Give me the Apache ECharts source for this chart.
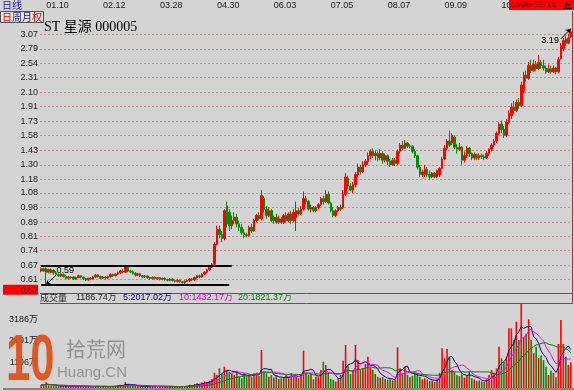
<!DOCTYPE html>
<html><head><meta charset="utf-8">
<script src="https://cdn.jsdelivr.net/npm/echarts@6/dist/echarts.min.js"></script>
<style>html,body{margin:0;padding:0;background:#d4d4d4;overflow:hidden}#c{width:574px;height:392px}</style>
</head><body><div id="c"></div>
<script>
const stockTitle = 'ST 星源 000005';
const priceTicks = [0.61,0.67,0.74,0.81,0.89,0.98,1.08,1.18,1.30,1.43,1.58,1.73,1.91,2.10,2.31,2.54,2.79,3.07];
const priceBottomLabel = 0.57;
const dateLabels = ['01.10','02.12','03.28','04.30','06.03','07.05','08.07','09.09','10.14'];
const dateIdx = [2,25,48,71,94,117,140,163,186];
const boxTop = 0.67, boxBottom = 0.59;
const lowVal = 0.59, lowIdx = 2;
const highVal = 3.19, highIdx = 214;
// [open, close, low, high]
const candles = [
[.645,.655,.64,.66],[.655,.645,.642,.66],[.64,.655,.59,.66],[.652,.64,.635,.655],[.64,.65,.635,.655],
[.648,.638,.63,.652],[.638,.63,.625,.645],[.63,.625,.62,.635],[.625,.632,.62,.638],[.63,.622,.618,.635],
[.622,.615,.61,.628],[.615,.62,.61,.625],[.62,.617,.613,.624],[.62,.612,.608,.624],[.612,.618,.608,.622],
[.618,.625,.615,.63],[.625,.62,.615,.628],[.62,.613,.608,.622],[.613,.608,.604,.616],[.608,.615,.605,.618],
[.615,.612,.607,.62],[.612,.62,.61,.625],[.62,.628,.617,.632],[.628,.622,.618,.632],[.622,.615,.612,.626],
[.615,.62,.612,.624],[.62,.616,.61,.623],[.616,.622,.612,.626],[.622,.63,.618,.635],[.63,.626,.62,.634],
[.626,.632,.622,.636],[.632,.638,.628,.642],[.638,.645,.632,.65],[.645,.64,.635,.652],[.64,.66,.638,.67],
[.66,.645,.64,.665],[.645,.642,.636,.65],[.642,.635,.63,.648],[.635,.628,.622,.64],[.628,.633,.624,.637],
[.633,.625,.62,.636],[.625,.62,.615,.628],[.62,.624,.616,.628],[.624,.618,.613,.627],[.618,.614,.61,.621],
[.614,.619,.61,.622],[.619,.613,.609,.622],[.613,.617,.609,.62],[.617,.611,.607,.62],[.611,.615,.607,.618],
[.615,.61,.605,.618],[.61,.607,.602,.613],[.607,.612,.603,.615],[.612,.606,.602,.615],[.606,.603,.598,.61],
[.603,.607,.598,.61],[.607,.601,.597,.61],[.601,.598,.594,.605],[.598,.603,.592,.606],[.603,.606,.6,.61],
[.606,.612,.6,.615],[.612,.608,.604,.616],[.608,.618,.605,.622],[.618,.625,.614,.628],[.625,.62,.615,.63],
[.62,.632,.618,.636],[.632,.64,.628,.645],[.64,.65,.635,.655],[.65,.662,.645,.668],[.662,.675,.658,.68],
[.675,.77,.67,.78],[.77,.85,.765,.87],[.85,.82,.8,.87],[.82,.80,.78,.84],[.8,.96,.79,.97],
[.99,.88,.86,1.02],[.95,.87,.84,.97],[.87,.9,.85,.93],[.9,.92,.88,.95],[.92,.88,.86,.94],
[.88,.86,.84,.9],[.86,.83,.82,.88],[.83,.82,.8,.85],[.82,.815,.805,.83],[.815,.86,.81,.87],
[.86,.84,.83,.88],[.84,.9,.835,.91],[.9,.93,.89,.94],[.93,.91,.9,.95],[.91,1.06,.9,1.1],
[1.04,.97,.95,1.06],[.97,.93,.91,.99],[.93,.96,.92,.98],[.96,.9,.89,.97],[.9,.92,.88,.93],
[.92,.89,.88,.94],[.89,.91,.88,.93],[.91,.89,.88,.92],[.89,.93,.88,.94],[.93,.9,.89,.95],
[.9,.94,.89,.95],[.94,.9,.88,.96],[.9,.95,.89,.97],[.92,.96,.84,1.02],[.96,.94,.93,.98],
[.94,.97,.93,.99],[.97,1.04,.96,1.09],[1.04,1.02,1.0,1.06],[1.02,.97,.96,1.03],[.97,.98,.95,1.0],
[.98,.96,.95,.99],[.96,.98,.95,.99],[.98,1.0,.97,1.01],[1.0,1.04,.99,1.05],[1.04,1.02,1.0,1.06],
[1.02,1.07,1.01,1.1],[1.07,1.01,1.0,1.09],[1.01,.96,.95,1.02],[.96,.93,.92,.98],[.93,.96,.92,.97],
[.96,.98,.95,.99],[.98,.97,.96,1.0],[.98,1.07,.97,1.1],[1.07,1.2,1.06,1.23],[1.19,1.13,1.11,1.21],
[1.13,1.1,1.09,1.15],[1.1,1.14,1.08,1.16],[1.14,1.22,1.12,1.24],[1.22,1.28,1.2,1.31],[1.28,1.24,1.22,1.3],
[1.24,1.3,1.23,1.33],[1.3,1.33,1.28,1.35],[1.33,1.38,1.3,1.41],[1.38,1.42,1.35,1.44],[1.42,1.38,1.36,1.45],
[1.38,1.4,1.34,1.43],[1.4,1.36,1.33,1.42],[1.36,1.4,1.34,1.44],[1.4,1.34,1.31,1.42],[1.34,1.38,1.32,1.4],
[1.38,1.33,1.3,1.39],[1.33,1.3,1.28,1.35],[1.3,1.34,1.29,1.36],[1.34,1.31,1.29,1.36],[1.31,1.42,1.3,1.44],
[1.42,1.48,1.4,1.5],[1.48,1.45,1.43,1.52],[1.45,1.5,1.44,1.53],[1.5,1.47,1.45,1.51],[1.47,1.47,1.45,1.49],
[1.47,1.42,1.4,1.48],[1.42,1.38,1.36,1.44],[1.38,1.28,1.26,1.39],[1.28,1.22,1.2,1.3],[1.22,1.24,1.2,1.26],
[1.22,1.26,1.2,1.3],[1.26,1.22,1.2,1.28],[1.22,1.2,1.18,1.25],[1.2,1.23,1.19,1.24],[1.23,1.2,1.19,1.24],
[1.2,1.25,1.19,1.26],[1.22,1.27,1.2,1.28],[1.27,1.35,1.26,1.37],[1.35,1.45,1.34,1.48],[1.45,1.52,1.43,1.54],
[1.52,1.48,1.46,1.63],[1.5,1.58,1.48,1.6],[1.56,1.46,1.44,1.58],[1.46,1.44,1.4,1.49],[1.44,1.46,1.42,1.5],
[1.46,1.34,1.3,1.47],[1.34,1.38,1.32,1.42],[1.38,1.45,1.36,1.47],[1.45,1.4,1.37,1.46],[1.4,1.36,1.34,1.41],
[1.36,1.39,1.34,1.41],[1.39,1.36,1.34,1.4],[1.36,1.38,1.34,1.4],[1.38,1.37,1.35,1.4],[1.37,1.36,1.34,1.39],
[1.36,1.4,1.35,1.42],[1.4,1.44,1.38,1.45],[1.44,1.48,1.42,1.5],[1.48,1.52,1.46,1.54],[1.52,1.6,1.5,1.62],
[1.6,1.7,1.58,1.72],[1.7,1.64,1.6,1.74],[1.64,1.58,1.55,1.68],[1.58,1.72,1.56,1.76],[1.72,1.82,1.7,1.86],
[1.8,1.9,1.76,1.95],[1.9,1.86,1.82,1.98],[1.86,1.96,1.84,2.0],[1.96,1.92,1.88,2.02],[1.92,2.2,1.9,2.25],
[2.12,2.35,2.08,2.4],[2.35,2.3,2.25,2.42],[2.3,2.5,2.28,2.56],[2.5,2.42,2.38,2.6],[2.42,2.52,2.4,2.6],
[2.52,2.45,2.42,2.58],[2.45,2.55,2.43,2.68],[2.55,2.5,2.45,2.6],[2.5,2.46,2.42,2.6],[2.46,2.4,2.37,2.5],
[2.4,2.45,2.38,2.52],[2.45,2.4,2.37,2.5],[2.4,2.46,2.38,2.5],[2.46,2.4,2.36,2.48],[2.4,2.6,2.38,2.65],
[2.62,2.85,2.6,2.9],[2.8,2.95,2.75,3.0],[2.98,2.9,2.85,3.05],[2.9,3.0,2.88,3.08],[3.02,3.12,3.0,3.19]
];
// volume, unit 万
const volumes = [
150,120,260,130,110,100,90,80,110,90,80,70,
75,
70,80,90,80,70,60,70,60,80,100,80,60,70,60,70,90,80,100,120,150,130,280,160,
100,
110,90,80,70,70,60,70,60,60,70,60,50,60,50,60,70,60,60,70,60,80,90,
100,
150,120,180,220,180,250,300,260,330,420,707,600,910,650,985,820,755,678,600,790,524,450,678,
560,
620,500,678,700,560,1755,755,678,520,600,480,570,420,447,500,600,450,678,560,524,450,600,1725,
700,
620,680,400,520,500,830,1215,1060,700,420,380,300,450,600,1260,1987,1060,650,830,1987,1290,830,900,
1100,
1446,950,830,650,520,480,500,420,380,400,350,420,1880,900,700,1000,600,500,560,650,700,520,
400,
450,380,320,350,280,400,700,1834,1372,1800,1446,830,750,600,550,700,480,560,750,450,400,320,350,
300,
280,400,600,830,700,900,1908,1372,1200,1450,2758,2758,2218,3063,2218,3913,2370,2500,3174,2218,1603,1908,1372,
1500,
1290,985,600,800,700,500,2033,3142,2033,1446,1060,1187
];
const volTicks = [1196, 2191, 3186];
const volHeader = ['成交量', '1186.74万', '5:2017.02万', '10:1432.17万', '20:1821.37万'];
const maPeriods = [5, 10, 20];
const dateStamp = '1996-11-15';
const weekday = '五';

const UP = '#ff0000', DN = '#008c00';
const cats = candles.map((_, i) => String(i));
const isUp = candles.map(c => c[1] >= c[0]);
function movingAvg(arr, k) {
  return arr.map((_, i) => {
    const s = Math.max(0, i - k + 1);
    let t = 0;
    for (let j = s; j <= i; j++) t += arr[j];
    return +(t / (i - s + 1)).toFixed(1);
  });
}
const maColors = ['#000080', '#ff00ff', '#008000'];
const FONT = '"Liberation Sans","Noto Sans CJK SC",sans-serif';

const chart = echarts.init(document.getElementById('c'), null, {renderer: 'canvas'});
const option = {
  animation: false,
  backgroundColor: '#d4d4d4',
  grid: [
    {left: 40, right: 2, top: 11, height: 282, outerBoundsMode: 'none'},
    {left: 40, right: 2, top: 303, height: 85, outerBoundsMode: 'none'}
  ],
  xAxis: [
    {type: 'category', gridIndex: 0, data: cats, position: 'top', boundaryGap: true,
     axisLine: {show: false}, axisTick: {show: false}, splitLine: {show: false},
     axisLabel: {show: true, margin: 1, align: 'left', color: '#202020', fontSize: 9, fontFamily: FONT,
       hideOverlap: false,
       interval: (i) => dateIdx.indexOf(i) >= 0,
       formatter: (v, i) => { const k = dateIdx.indexOf(i); return k >= 0 ? dateLabels[k] : ''; }}},
    {type: 'category', gridIndex: 1, data: cats, boundaryGap: true,
     axisLine: {show: false}, axisTick: {show: false}, axisLabel: {show: false}, splitLine: {show: false}}
  ],
  yAxis: [
    {type: 'log', gridIndex: 0, min: 0.558, max: 3.585, position: 'left',
     axisLine: {show: false}, axisTick: {show: false, customValues: priceTicks},
     splitLine: {show: true, lineStyle: {color: '#c08e8e', type: [2, 2], width: 1}},
     axisLabel: {customValues: [priceBottomLabel].concat(priceTicks), margin: 2, color: '#202020',
       fontSize: 9, fontFamily: FONT, hideOverlap: false,
       formatter: (v) => Math.abs(v - priceBottomLabel) < 1e-6 ? '{hl|' + v.toFixed(2) + '}' : v.toFixed(2),
       rich: {hl: {backgroundColor: '#ff0000', width: 35, height: 9, align: 'right', color: '#202020',
                   fontSize: 9, fontFamily: FONT, padding: [1, 0, 0, 0]}}}},
    {type: 'value', gridIndex: 1, min: 0, max: 3927, position: 'left',
     axisLine: {show: false}, axisTick: {show: false}, splitLine: {show: false},
     axisLabel: {customValues: volTicks, margin: 2, color: '#202020', fontSize: 9, fontFamily: FONT,
       formatter: (v) => v + '万'}}
  ],
  series: [
    {type: 'candlestick', xAxisIndex: 0, yAxisIndex: 0, data: candles, barWidth: '80%', barMaxWidth: 2,
     itemStyle: {color: UP, color0: DN, borderColor: UP, borderColor0: DN, borderWidth: 1},
     markLine: {silent: true, animation: false, symbol: ['none', 'none'], label: {show: false},
       lineStyle: {color: '#000', width: 2, type: 'solid'},
       emphasis: {disabled: true},
       data: [
         [{coord: [0, boxTop]}, {coord: [77, boxTop]}],
         [{coord: [0, boxBottom]}, {coord: [76, boxBottom]}],
         [{coord: [lowIdx, lowVal], symbol: 'arrow', symbolSize: 4, lineStyle: {width: 1, color: '#000'}},
          {coord: [6, 0.628], symbol: 'none', lineStyle: {width: 1, color: '#000'}}],
         [{coord: [210, 2.98], symbol: 'none', lineStyle: {width: 1, color: '#000'}},
          {coord: [highIdx, highVal], symbol: 'arrow', symbolSize: 5, lineStyle: {width: 1, color: '#000'}}]
       ]},
     markPoint: {silent: true, symbol: 'circle', symbolSize: 1, itemStyle: {color: 'rgba(0,0,0,0)'},
       label: {show: true, color: '#000', fontSize: 9, fontFamily: FONT},
       data: [
         {coord: [6, 0.628], value: lowVal, label: {position: [1, -9], formatter: lowVal.toFixed(2)}},
         {coord: [210, 2.98], value: highVal, label: {position: [-19, -3], formatter: highVal.toFixed(2)}}
       ]}},
    {type: 'bar', xAxisIndex: 1, yAxisIndex: 1, barWidth: 1.6,
     data: volumes.map((v, i) => ({value: v, itemStyle: {color: isUp[i] ? UP : DN}}))}
  ].concat(maPeriods.map((p, k) => ({
    type: 'line', xAxisIndex: 1, yAxisIndex: 1, data: movingAvg(volumes, p), showSymbol: false,
    symbol: 'none', lineStyle: {width: 1, color: maColors[k]}, z: 5
  }))),
  graphic: [
    {type: 'line', shape: {x1: 40, y1: 293.5, x2: 573, y2: 293.5}, style: {stroke: '#a83838', lineWidth: 1}, z: 50},
    {type: 'line', shape: {x1: 40, y1: 303.5, x2: 573, y2: 303.5}, style: {stroke: '#a83838', lineWidth: 1}, z: 50},
    {type: 'line', shape: {x1: 572.5, y1: 11, x2: 572.5, y2: 303.5}, style: {stroke: '#a83838', lineWidth: 1}, z: 50},
    {type: 'line', shape: {x1: 3, y1: 389, x2: 574, y2: 389}, style: {stroke: '#c06a6a', lineWidth: 2}, z: 50},
    {type: 'text', x: 2, y: 0, style: {text: '日线', fill: '#1818c8', font: '10px "Noto Sans CJK SC"'}, z: 60},
    {type: 'rect', shape: {x: 0.5, y: 11.5, width: 43, height: 11}, style: {fill: '#e6e6e6', stroke: '#505050', lineWidth: 1}, z: 60},
    {type: 'text', x: 2, y: 12, style: {text: '{r|日}{b|周月}{r|权}', font: '10px "Noto Sans CJK SC"',
       rich: {r: {fill: '#e00000', font: '10px "Noto Sans CJK SC"'}, b: {fill: '#202080', font: '10px "Noto Sans CJK SC"'}}}, z: 61},
    {type: 'text', x: 44, y: 20, style: {text: stockTitle, fill: '#000', font: '14px "Liberation Serif","Noto Sans CJK SC"'}, z: 60},
    {type: 'rect', shape: {x: 509, y: 0, width: 65, height: 10}, style: {fill: '#ff0000'}, z: 100},
    {type: 'text', x: 511, y: 0, style: {text: dateStamp, fill: '#6a0000', font: '9px "Liberation Sans"'}, z: 101},
    {type: 'text', x: 563, y: 0, style: {text: weekday, fill: '#000', font: '9px "Noto Sans CJK SC"'}, z: 101},
    {type: 'text', x: 40, y: 293, style: {text: volHeader[0], fill: '#202020', font: '9px "Noto Sans CJK SC"'}, z: 60},
    {type: 'text', x: 76, y: 293, style: {text: volHeader[1], fill: '#202020', font: '9px ' + FONT}, z: 60},
    {type: 'text', x: 123, y: 293, style: {text: volHeader[2], fill: '#000080', font: '9px ' + FONT}, z: 60},
    {type: 'text', x: 179, y: 293, style: {text: volHeader[3], fill: '#e000e0', font: '9px ' + FONT}, z: 60},
    {type: 'text', x: 238, y: 293, style: {text: volHeader[4], fill: '#008000', font: '9px ' + FONT}, z: 60},
    {type: 'text', x: 6, y: 330, scaleX: 0.68, style: {text: '10', fill: '#e0501a', opacity: 0.95, font: 'bold 64px "Liberation Sans"'}, z: 80},
    {type: 'text', x: 66, y: 339, style: {text: '拾荒网', fill: '#8a8a8a', opacity: 0.9, font: '20px "Noto Sans CJK SC"'}, z: 80},
    {type: 'text', x: 57, y: 365, style: {text: 'Huang.CN', fill: '#8a8a8a', opacity: 0.9, font: '15px "Liberation Sans"'}, z: 80}
  ]
};
chart.setOption(option);
</script>
</body></html>
